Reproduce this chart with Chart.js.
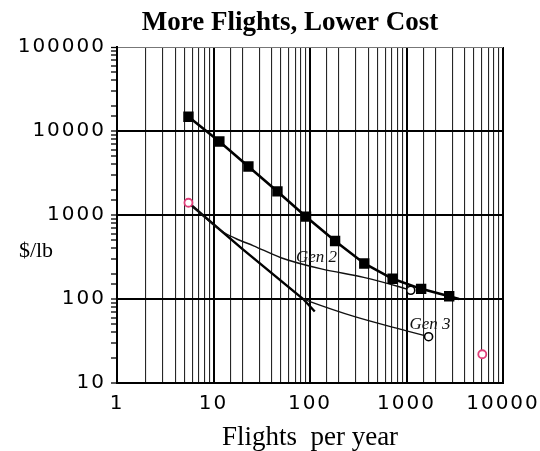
<!DOCTYPE html>
<html>
<head>
<meta charset="utf-8">
<script src="https://cdn.jsdelivr.net/npm/chart.js@4"></script>
<style>
  html, body { margin: 0; padding: 0; background: #fff; }
</style>
</head>
<body>
<canvas id="costChart" width="540" height="451"></canvas>
<script>
// decade ticks that carry a label
const xTicks = [1, 10, 100, 1000, 10000];
const yTicks = [10, 100, 1000, 10000, 100000];

// filled-square curve
const costX = [5.5, 11.5, 23, 46, 91, 182, 365, 718, 1418, 2770, 3500];
const costY = [14800, 7500, 3780, 1910, 955, 490, 265, 174, 132, 108, 100];

// thick line from the pink point
const thickX = [5.5, 20, 85, 112];
const thickY = [1400, 393, 100, 71];

// Gen 2 / Gen 3 curves (open circle at the end)
const gen2X = [5.5, 12, 17, 26, 50, 131, 360, 840, 1107];
const gen2Y = [1400, 650, 525, 430, 310, 228, 181, 140, 127];
const gen3X = [85, 100, 285, 980, 1694];
const gen3Y = [100, 93, 62, 42, 35.6];

// pink open circles
const pinkX = [5.5, 6100];
const pinkY = [1400, 22];

const genNames = ['Gen 2', 'Gen 3'];

const pts = (xs, ys) => xs.map((x, i) => ({ x: x, y: ys[i] }));
const lastOnly = (xs, r) => xs.map((x, i) => (i === xs.length - 1 ? r : 0));

const annotate = {
    id: 'annotate',
    afterLayout(chart) {
        // title sits a little left of the plot centre in the original
        const t = chart.titleBlock;
        if (t) {
            t.left = 77;
            t.right = chart.chartArea.right;
            t.width = t.right - t.left;
        }
    },
    afterDatasetsDraw(chart) {
        const { ctx, scales } = chart;
        ctx.save();
        ctx.fillStyle = '#111';
        ctx.textAlign = 'center';
        ctx.textBaseline = 'middle';
        ctx.font = 'italic 17px "Liberation Serif"';
        ctx.fillText(genNames[0], scales.x.getPixelForValue(117), scales.y.getPixelForValue(308));
        ctx.fillText(genNames[1], scales.x.getPixelForValue(1753), scales.y.getPixelForValue(49));
        // y axis title is horizontal in the original
        ctx.fillStyle = '#000';
        ctx.font = '22px "Liberation Serif"';
        ctx.fillText('$/lb', chart.chartArea.left - 81, scales.y.getPixelForValue(373));
        ctx.restore();
        // tick labels (z = 1) are drawn after this, a bit wider
        ctx.letterSpacing = '2px';
    },
    afterDraw(chart) {
        chart.ctx.letterSpacing = '0px';
    }
};

const tickFont = { family: '"DejaVu Sans"', size: 20 };

new Chart(document.getElementById('costChart'), {
    type: 'scatter',
    data: {
        datasets: [
            {
                data: pts(pinkX, pinkY),
                showLine: false,
                pointStyle: 'circle',
                pointRadius: 4,
                borderColor: '#e0407a',
                borderWidth: 1.8,
                backgroundColor: '#fff'
            },
            {
                data: pts(costX, costY),
                showLine: true,
                borderColor: '#000',
                borderWidth: 2.6,
                pointStyle: 'rect',
                pointRadius: costX.map((x, i) => (i < costX.length - 1 ? 5.5 : 0)),
                pointBackgroundColor: '#000',
                pointBorderColor: '#000'
            },
            {
                data: pts(gen2X, gen2Y),
                showLine: true,
                borderColor: '#111',
                borderWidth: 1.4,
                cubicInterpolationMode: 'monotone',
                pointRadius: lastOnly(gen2X, 4),
                pointBackgroundColor: '#fff',
                pointBorderColor: '#000',
                pointBorderWidth: 1.6
            },
            {
                data: pts(gen3X, gen3Y),
                showLine: true,
                borderColor: '#111',
                borderWidth: 1.4,
                cubicInterpolationMode: 'monotone',
                pointRadius: lastOnly(gen3X, 4),
                pointBackgroundColor: '#fff',
                pointBorderColor: '#000',
                pointBorderWidth: 1.6
            },
            {
                data: pts(thickX, thickY),
                showLine: true,
                borderColor: '#000',
                borderWidth: 2.4,
                pointRadius: 0
            }
        ]
    },
    options: {
        responsive: false,
        animation: false,
        layout: { padding: { left: 0, right: 37, top: 0, bottom: 0 } },
        plugins: {
            legend: { display: false },
            tooltip: { enabled: false },
            title: {
                display: true,
                text: 'More Flights, Lower Cost',
                color: '#000',
                font: { family: '"Liberation Serif"', size: 27, weight: 'bold' },
                padding: { top: 7, bottom: 7.6 }
            }
        },
        scales: {
            x: {
                type: 'logarithmic',
                min: 1,
                max: 10000,
                afterFit(s) { s.height = 68; s.paddingLeft = 0; s.paddingRight = 0; },
                grid: {
                    color: (c) => (c.tick && xTicks.includes(c.tick.value) ? '#000' : '#262626'),
                    lineWidth: (c) => (c.tick && xTicks.includes(c.tick.value) ? 2 : 1.1),
                    drawTicks: false
                },
                border: { color: '#000', width: 2 },
                ticks: {
                    autoSkip: false,
                    maxRotation: 0,
                    padding: 9,
                    z: 1,
                    color: '#000',
                    font: tickFont,
                    callback: (v) => (xTicks.includes(v) ? String(v) : '')
                },
                title: {
                    display: true,
                    text: 'Flights  per year',
                    color: '#000',
                    font: { family: '"Liberation Serif"', size: 27, lineHeight: 1 },
                    padding: { top: 0, bottom: 0 }
                }
            },
            y: {
                type: 'logarithmic',
                min: 10,
                max: 100000,
                afterFit(s) { s.width = 117; s.paddingTop = 0; s.paddingBottom = 0; },
                grid: {
                    color: (c) => {
                        if (!c.tick || !yTicks.includes(c.tick.value)) return 'rgba(0,0,0,0)';
                        return c.tick.value === 100000 ? '#777' : '#000';
                    },
                    lineWidth: (c) => (c.tick && c.tick.value === 100000 ? 1 : 2),
                    drawTicks: true,
                    tickLength: 6,
                    tickColor: '#000',
                    tickWidth: 1.3
                },
                border: { color: '#000', width: 2 },
                ticks: {
                    autoSkip: false,
                    padding: 5,
                    z: 1,
                    color: '#000',
                    font: tickFont,
                    callback: (v) => (yTicks.includes(v) ? String(v) : '')
                }
            }
        }
    },
    plugins: [annotate]
});
</script>
</body>
</html>
